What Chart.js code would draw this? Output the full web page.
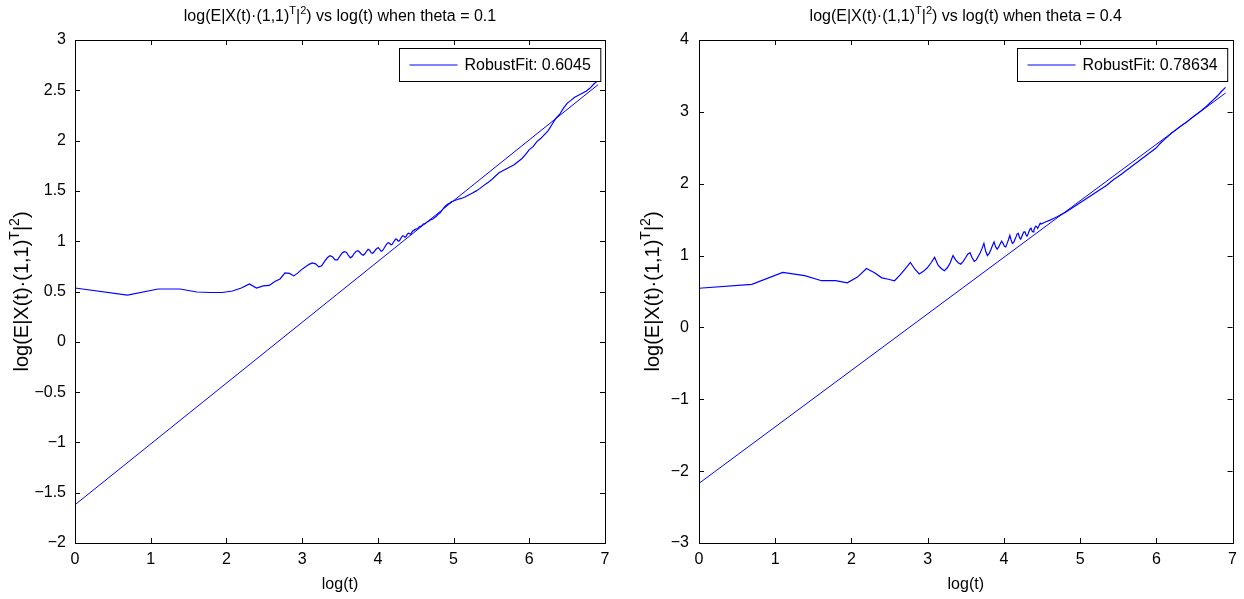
<!DOCTYPE html>
<html>
<head>
<meta charset="utf-8">
<title>log(E|X(t)(1,1)^T|^2) vs log(t)</title>
<script src="https://cdn.jsdelivr.net/npm/chart.js@4/dist/chart.umd.min.js"></script>
<style>
  body { margin: 0; background: #fff; }
  .panel { position: absolute; top: 0; height: 599px; }
  #leftBox { left: 0; width: 620px; }
  #rightBox { left: 620px; width: 624px; }
</style>
</head>
<body>
<div class="panel" id="leftBox"><canvas id="leftChart"></canvas></div>
<div class="panel" id="rightBox"><canvas id="rightChart"></canvas></div>

<script>
// theta = 0.1 : empirical curve
const leftX = [
  0, 0.693, 1.099, 1.386, 1.609, 1.792, 1.946, 2.079, 2.197, 2.303, 2.398, 2.485, 2.565, 2.639, 2.708,
  2.773, 2.833, 2.89, 2.944, 2.996, 3.045, 3.091, 3.135, 3.178, 3.219, 3.258, 3.296, 3.332, 3.367, 3.401,
  3.434, 3.466, 3.497, 3.526, 3.555, 3.584, 3.611, 3.638, 3.664, 3.689, 3.714, 3.738, 3.761, 3.784, 3.807,
  3.829, 3.85, 3.871, 3.892, 3.912, 3.932, 3.951, 3.97, 3.989, 4.007, 4.025, 4.043, 4.06, 4.078, 4.094,
  4.111, 4.127, 4.143, 4.159, 4.174, 4.19, 4.205, 4.22, 4.234, 4.248, 4.263, 4.277, 4.29, 4.304, 4.317,
  4.331, 4.344, 4.357, 4.37, 4.382, 4.394, 4.407, 4.419, 4.431, 4.443, 4.454, 4.466, 4.477, 4.5, 4.525,
  4.55, 4.575, 4.6, 4.625, 4.65, 4.675, 4.7, 4.725, 4.75, 4.775, 4.8, 4.825, 4.85, 4.875, 4.9,
  4.925, 4.95, 4.975, 5.0, 5.05, 5.1, 5.15, 5.2, 5.25, 5.3, 5.35, 5.4, 5.45, 5.5, 5.55,
  5.6, 5.65, 5.7, 5.75, 5.8, 5.85, 5.9, 5.95, 6.0, 6.05, 6.1, 6.15, 6.2, 6.25, 6.3,
  6.35, 6.4, 6.45, 6.5, 6.55, 6.6, 6.65, 6.7, 6.75, 6.8, 6.85, 6.908
];
const leftY = [
  0.535, 0.465, 0.525, 0.525, 0.495, 0.49, 0.49, 0.505, 0.535, 0.575, 0.535, 0.555, 0.56, 0.6, 0.625,
  0.685, 0.68, 0.655, 0.685, 0.72, 0.745, 0.77, 0.785, 0.775, 0.745, 0.755, 0.8, 0.835, 0.855, 0.845,
  0.815, 0.815, 0.85, 0.88, 0.895, 0.89, 0.86, 0.835, 0.85, 0.88, 0.9, 0.905, 0.89, 0.87, 0.86,
  0.875, 0.9, 0.92, 0.91, 0.885, 0.88, 0.895, 0.915, 0.93, 0.935, 0.92, 0.9, 0.905, 0.925, 0.945,
  0.965, 0.98, 0.985, 0.975, 0.965, 0.97, 0.99, 1.005, 1.02, 1.02, 1.005, 1.0, 1.01, 1.03, 1.045,
  1.055, 1.05, 1.04, 1.045, 1.06, 1.075, 1.08, 1.075, 1.07, 1.08, 1.095, 1.105, 1.11, 1.12, 1.125,
  1.145, 1.15, 1.17, 1.175, 1.19, 1.2, 1.215, 1.22, 1.235, 1.25, 1.27, 1.285, 1.31, 1.335, 1.355,
  1.37, 1.38, 1.395, 1.4, 1.415, 1.425, 1.44, 1.46, 1.48, 1.5, 1.525, 1.555, 1.58, 1.61, 1.645,
  1.68, 1.7, 1.72, 1.74, 1.76, 1.79, 1.82, 1.86, 1.91, 1.94, 1.99, 2.02, 2.06, 2.1, 2.16,
  2.22, 2.26, 2.32, 2.37, 2.4, 2.43, 2.45, 2.47, 2.49, 2.52, 2.56, 2.6
];

// theta = 0.4 : empirical curve
const rightX = [
  0, 0.693, 1.099, 1.386, 1.609, 1.792, 1.946, 2.079, 2.197, 2.303, 2.398, 2.485, 2.565, 2.639, 2.708,
  2.773, 2.833, 2.89, 2.944, 2.996, 3.045, 3.091, 3.135, 3.178, 3.219, 3.258, 3.296, 3.332, 3.367, 3.401,
  3.434, 3.466, 3.497, 3.526, 3.555, 3.584, 3.611, 3.638, 3.664, 3.689, 3.714, 3.738, 3.761, 3.784, 3.807,
  3.829, 3.85, 3.871, 3.892, 3.912, 3.932, 3.951, 3.97, 3.989, 4.007, 4.025, 4.043, 4.06, 4.078, 4.094,
  4.111, 4.127, 4.143, 4.159, 4.174, 4.19, 4.205, 4.22, 4.234, 4.248, 4.263, 4.277, 4.29, 4.304, 4.317,
  4.331, 4.344, 4.357, 4.37, 4.382, 4.394, 4.407, 4.419, 4.431, 4.443, 4.454, 4.466, 4.477, 4.489, 4.5,
  4.55, 4.6, 4.65, 4.7, 4.75, 4.8, 4.85, 4.9, 4.95, 5.0, 5.05, 5.1, 5.15, 5.2, 5.25,
  5.3, 5.35, 5.4, 5.45, 5.5, 5.55, 5.6, 5.65, 5.7, 5.75, 5.8, 5.85, 5.9, 5.95, 6.0,
  6.05, 6.1, 6.15, 6.2, 6.25, 6.3, 6.35, 6.4, 6.45, 6.5, 6.55, 6.6, 6.65, 6.7, 6.75,
  6.8, 6.85, 6.908
];
const rightY = [
  0.545, 0.6, 0.765, 0.72, 0.65, 0.65, 0.62, 0.7, 0.82, 0.76, 0.69, 0.67, 0.65, 0.73, 0.82,
  0.905, 0.81, 0.745, 0.78, 0.83, 0.9, 0.975, 0.87, 0.82, 0.79, 0.83, 0.9, 1.0, 0.94, 0.9,
  0.88, 0.92, 0.97, 1.02, 1.04, 0.97, 0.92, 0.94, 0.99, 1.04, 1.1, 1.17, 1.06, 1.0, 1.03,
  1.08, 1.14, 1.19, 1.12, 1.09, 1.12, 1.16, 1.2, 1.17, 1.13, 1.12, 1.17, 1.22, 1.28, 1.22,
  1.17, 1.18, 1.22, 1.26, 1.3, 1.31, 1.25, 1.23, 1.26, 1.3, 1.33, 1.33, 1.29, 1.27, 1.3,
  1.34, 1.37, 1.38, 1.34, 1.33, 1.36, 1.39, 1.41, 1.4, 1.38, 1.4, 1.43, 1.45, 1.44, 1.44,
  1.47, 1.49, 1.515, 1.54, 1.57, 1.595, 1.63, 1.665, 1.7, 1.735, 1.77, 1.805, 1.84, 1.875, 1.91,
  1.945, 1.98, 2.025, 2.065, 2.1, 2.14, 2.18, 2.22, 2.26, 2.3, 2.34, 2.38, 2.42, 2.46, 2.5,
  2.56, 2.61, 2.655, 2.705, 2.745, 2.785, 2.825, 2.86, 2.905, 2.945, 2.985, 3.025, 3.07, 3.12, 3.17,
  3.22, 3.28, 3.34
];

// robust fits: slope is the value shown in the legend
const fitX = [0, 6.908];
const leftFit = { slope: 0.6045, intercept: -1.62 };
const rightFit = { slope: 0.78634, intercept: -2.17 };

const xTicks = [0, 1, 2, 3, 4, 5, 6, 7];
const leftYTicks = [-2, -1.5, -1, -0.5, 0, 0.5, 1, 1.5, 2, 2.5, 3];
const rightYTicks = [-3, -2, -1, 0, 1, 2, 3, 4];

const FONT = "'Liberation Sans', Arial, Helvetica, sans-serif";
const BLUE = "#0000ff";
const SIZE = 16;

Chart.defaults.font.family = FONT;
Chart.defaults.font.size = SIZE;
Chart.defaults.color = "#000";

function toPoints(xs, ys) {
  return xs.map((x, i) => ({ x: x, y: ys[i] }));
}

function fitPoints(fit) {
  return fitX.map((x) => ({ x: x, y: fit.intercept + fit.slope * x }));
}

function tickLabel(v) {
  return v < 0 ? "\u2212" + Math.abs(v) : String(v);
}

// text with superscripts, centred on (x, y)
function drawRich(ctx, parts, x, y, size) {
  const supSize = Math.round(size * 0.7);
  const fontOf = (p) => (p.sup ? supSize : size) + "px " + FONT;
  let total = 0;
  parts.forEach((p) => {
    ctx.font = fontOf(p);
    total += ctx.measureText(p.t).width;
  });
  let cx = x - total / 2;
  ctx.textAlign = "left";
  ctx.textBaseline = "alphabetic";
  parts.forEach((p) => {
    ctx.font = fontOf(p);
    ctx.fillText(p.t, cx, p.sup ? y - size * 0.45 : y);
    cx += ctx.measureText(p.t).width;
  });
}

const quantity = [
  { t: "log(E|X(t)\u00b7(1,1)" }, { t: "T", sup: true }, { t: "|" }, { t: "2", sup: true }
];

// box, inward ticks, titles and legend in the MATLAB style
const framePlugin = {
  id: "frame",
  afterDraw(chart, args, opts) {
    const ctx = chart.ctx;
    const a = chart.chartArea;
    const xs = chart.scales.x;
    const ys = chart.scales.y;
    ctx.save();
    ctx.strokeStyle = "#000";
    ctx.lineWidth = 1;
    ctx.strokeRect(Math.round(a.left) + 0.5, Math.round(a.top) + 0.5,
      Math.round(a.right - a.left), Math.round(a.bottom - a.top));

    const len = 5;
    ctx.beginPath();
    xs.ticks.forEach((t) => {
      const px = Math.round(xs.getPixelForValue(t.value)) + 0.5;
      ctx.moveTo(px, a.bottom); ctx.lineTo(px, a.bottom - len);
      ctx.moveTo(px, a.top); ctx.lineTo(px, a.top + len);
    });
    ys.ticks.forEach((t) => {
      const py = Math.round(ys.getPixelForValue(t.value)) + 0.5;
      ctx.moveTo(a.left, py); ctx.lineTo(a.left + len, py);
      ctx.moveTo(a.right, py); ctx.lineTo(a.right - len, py);
    });
    ctx.stroke();

    ctx.fillStyle = "#000";
    const midX = (a.left + a.right) / 2;
    drawRich(ctx, quantity.concat([{ t: ") vs log(t) when theta = " + opts.theta }]), midX, 21, SIZE);

    ctx.font = SIZE + "px " + FONT;
    ctx.textAlign = "center";
    ctx.textBaseline = "alphabetic";
    ctx.fillText("log(t)", midX, 589);

    ctx.save();
    ctx.translate(opts.yTitleX, (a.top + a.bottom) / 2);
    ctx.rotate(-Math.PI / 2);
    drawRich(ctx, quantity.concat([{ t: ")" }]), 0, 7, 20);
    ctx.restore();

    // legend for the fit line
    const ds = chart.data.datasets[1];
    ctx.font = SIZE + "px " + FONT;
    const tw = ctx.measureText(ds.label).width;
    const bw = 65 + tw + 10;
    const bx = Math.round(a.right - 5 - bw) + 0.5;
    const by = Math.round(a.top + 8) + 0.5;
    const bh = 33;
    ctx.fillStyle = "#fff";
    ctx.fillRect(bx, by, bw, bh);
    ctx.strokeStyle = "#000";
    ctx.strokeRect(bx, by, bw, bh);
    ctx.strokeStyle = BLUE;
    ctx.beginPath();
    ctx.moveTo(bx + 10, by + bh / 2);
    ctx.lineTo(bx + 58, by + bh / 2);
    ctx.stroke();
    ctx.fillStyle = "#000";
    ctx.textAlign = "left";
    ctx.textBaseline = "middle";
    ctx.fillText(ds.label, bx + 65, by + bh / 2 + 1);
    ctx.restore();
  }
};

function makeChart(id, curve, fit, fitLabel, yMin, yMax, yStep, yTicks, layout) {
  return new Chart(document.getElementById(id), {
    type: "line",
    data: {
      datasets: [
        {
          label: "data",
          data: curve,
          borderColor: BLUE,
          borderWidth: 1.2,
          pointRadius: 0,
          tension: 0,
        },
        {
          label: fitLabel,
          data: fitPoints(fit),
          borderColor: BLUE,
          borderWidth: 1,
          pointRadius: 0,
        },
      ],
    },
    options: {
      responsive: true,
      maintainAspectRatio: false,
      animation: false,
      layout: { padding: { top: 40, right: layout.right, left: 0, bottom: 0 } },
      plugins: {
        legend: { display: false },
        tooltip: { enabled: false },
        frame: { theta: layout.theta, yTitleX: layout.yTitleX },
      },
      scales: {
        x: {
          type: "linear",
          min: 0,
          max: 7,
          grid: { display: false, drawTicks: false },
          border: { display: false },
          afterBuildTicks: (s) => { s.ticks = xTicks.map((v) => ({ value: v })); },
          ticks: { padding: 7, maxRotation: 0, callback: tickLabel },
          afterFit: (s) => { s.height = 56; },
        },
        y: {
          type: "linear",
          min: yMin,
          max: yMax,
          grid: { display: false, drawTicks: false },
          border: { display: false },
          afterBuildTicks: (s) => { s.ticks = yTicks.map((v) => ({ value: v })); },
          ticks: { padding: layout.yPad, stepSize: yStep, callback: tickLabel },
          afterFit: (s) => { s.width = layout.yWidth; },
        },
      },
    },
    plugins: [framePlugin],
  });
}

makeChart("leftChart", toPoints(leftX, leftY), leftFit, "RobustFit: 0.6045",
  -2, 3, 0.5, leftYTicks, { right: 15, yWidth: 75, yPad: 9, theta: "0.1", yTitleX: 21 });

makeChart("rightChart", toPoints(rightX, rightY), rightFit, "RobustFit: 0.78634",
  -3, 4, 1, rightYTicks, { right: 11, yWidth: 79, yPad: 10, theta: "0.4", yTitleX: 32 });
</script>
</body>
</html>
